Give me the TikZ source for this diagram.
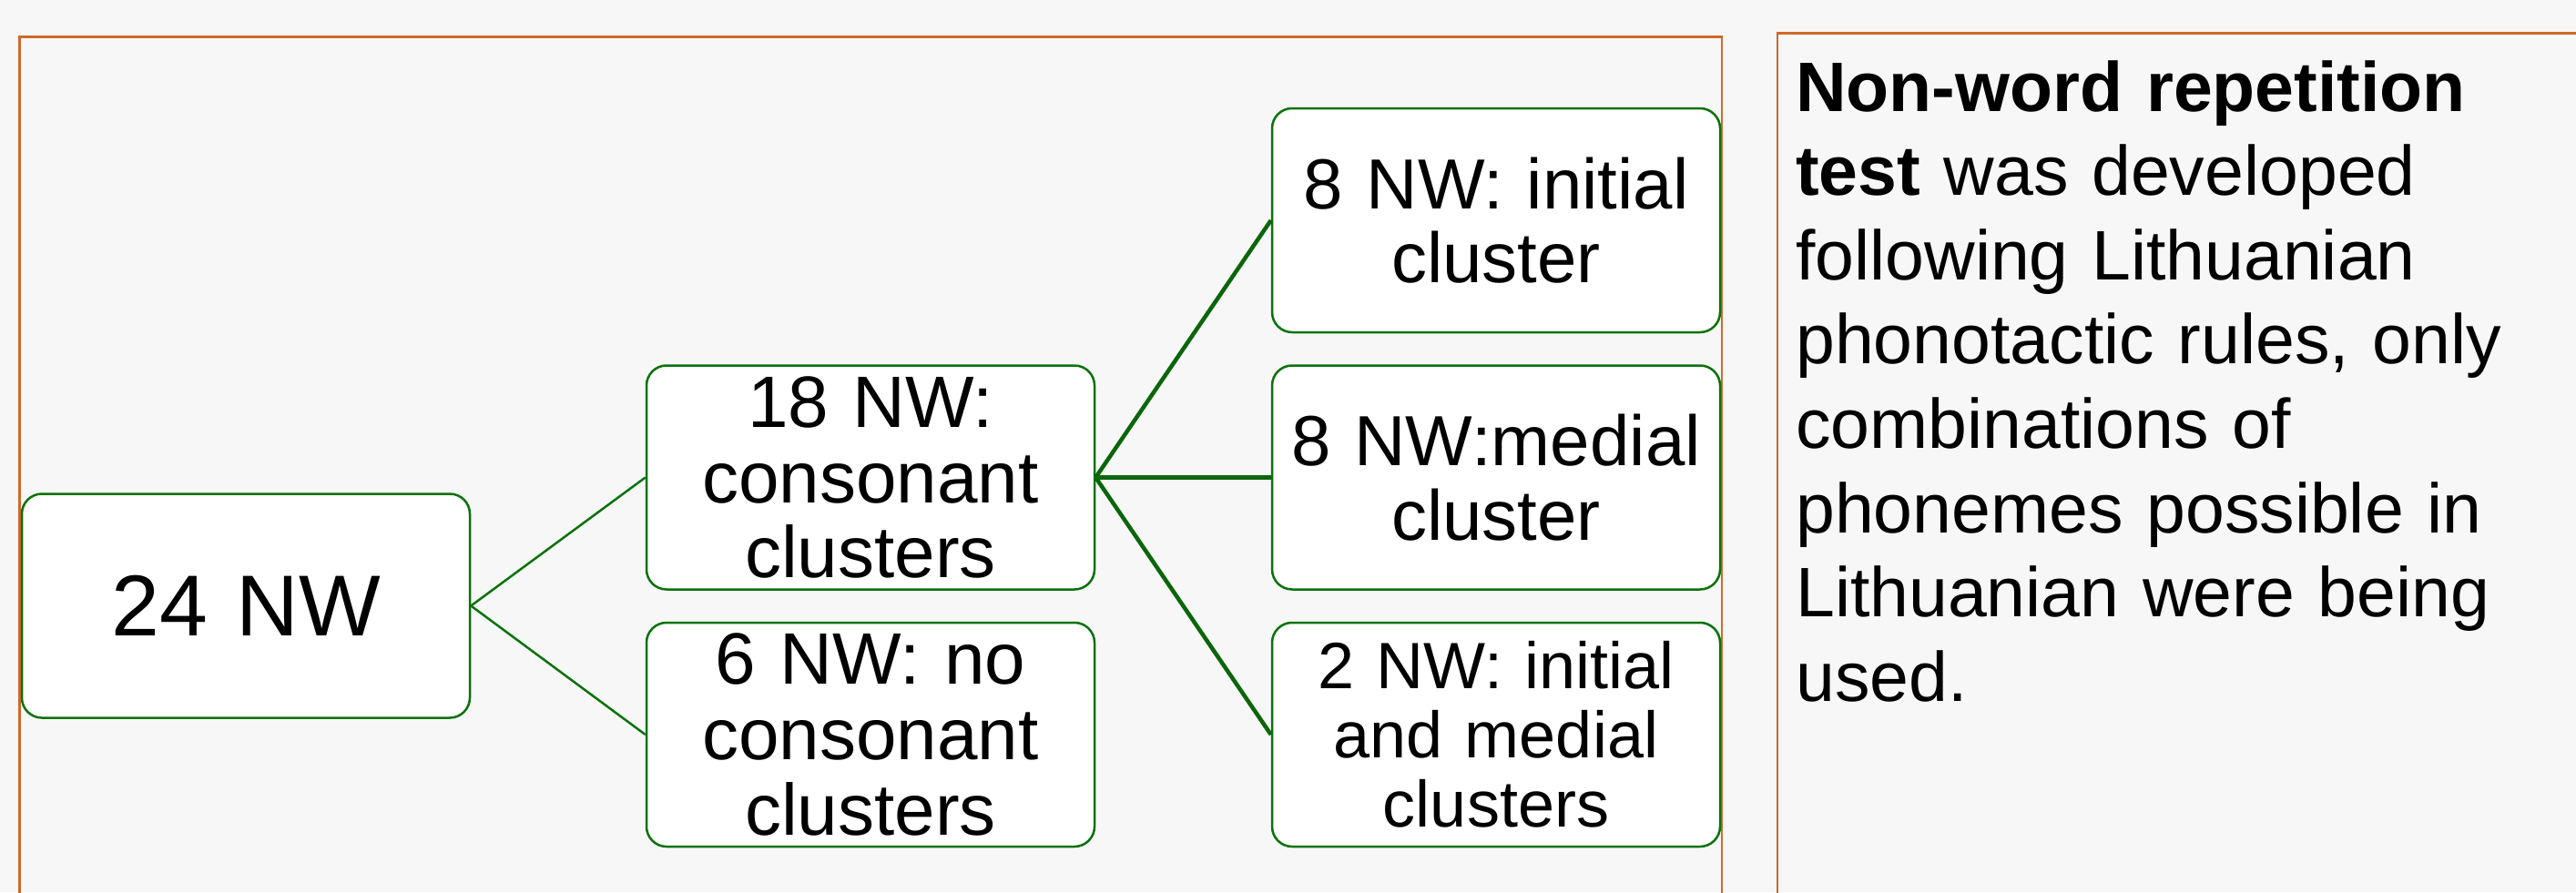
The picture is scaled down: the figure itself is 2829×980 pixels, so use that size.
\documentclass[tikz,border=0pt]{standalone}
\usepackage{fontspec}
\setmainfont{Liberation Sans}
\definecolor{bgray}{HTML}{F7F7F7}
\definecolor{frameorange}{HTML}{D0692A}
\definecolor{boxgreen}{HTML}{0B720B}
\definecolor{fangreen}{HTML}{0A660A}
\tikzset{
  framebox/.style={draw=frameorange, line width=2.2pt},
  nwbox/.style={draw=boxgreen, fill=white, line width=2.5pt, rounded corners=22pt,
    minimum width=492pt, minimum height=246pt, inner sep=0pt, align=center,
    text width=480pt},
  thinlink/.style={draw=boxgreen, line width=2.5pt},
  thicklink/.style={draw=fangreen, line width=4.5pt},
}
\begin{document}
\begin{tikzpicture}[x=1pt, y=1pt]
  % page and background
  \fill[bgray] (0,0) rectangle (2829,-980);
  \useasboundingbox (0,0) rectangle (2829,-980);

  % panel frames
  \draw[framebox] (21.5,-990) -- (21.5,-40.5) -- (1891,-40.5) -- (1891,-990);
  \draw[framebox] (1952,-990) -- (1952,-36.5) -- (2850,-36.5);

  % hierarchy boxes
  \node[nwbox, font=\fontsize{95}{100}\selectfont] (all) at (270,-665.5) {24 NW};
  \node[nwbox, font=\fontsize{80}{82.6}\selectfont] (cc) at (956,-524.5)
    {18 NW:\\consonant\\clusters};
  \node[nwbox, font=\fontsize{80}{82.6}\selectfont] (nocc) at (956,-807)
    {6 NW: no\\consonant\\clusters};
  \node[nwbox, font=\fontsize{78}{81.7}\selectfont] (init) at (1643,-242)
    {8 NW: initial\\cluster};
  \node[nwbox, font=\fontsize{78}{81.7}\selectfont] (med) at (1643,-524.5)
    {8 NW:medial\\cluster};
  \node[nwbox, font=\fontsize{72}{76}\selectfont] (both) at (1643,-807)
    {2 NW: initial\\and medial\\clusters};

  % connectors
  \draw[thinlink] (all.east) -- (cc.west);
  \draw[thinlink] (all.east) -- (nocc.west);
  \draw[thicklink] (cc.east) -- (init.west);
  \draw[thicklink] (cc.east) -- (med.west);
  \draw[thicklink] (cc.east) -- (both.west);

  % description text
  \node[anchor=base west, inner sep=0pt, align=left, text width=850pt,
        font=\fontsize{77}{92.6}\selectfont] (desc) at (1972,-122)
    {\textbf{Non-word repetition}\\
     \textbf{test} was developed\\
     following Lithuanian\\
     phonotactic rules, only\\
     combinations of\\
     phonemes possible in\\
     Lithuanian were being\\
     used.};
\end{tikzpicture}
\end{document}
